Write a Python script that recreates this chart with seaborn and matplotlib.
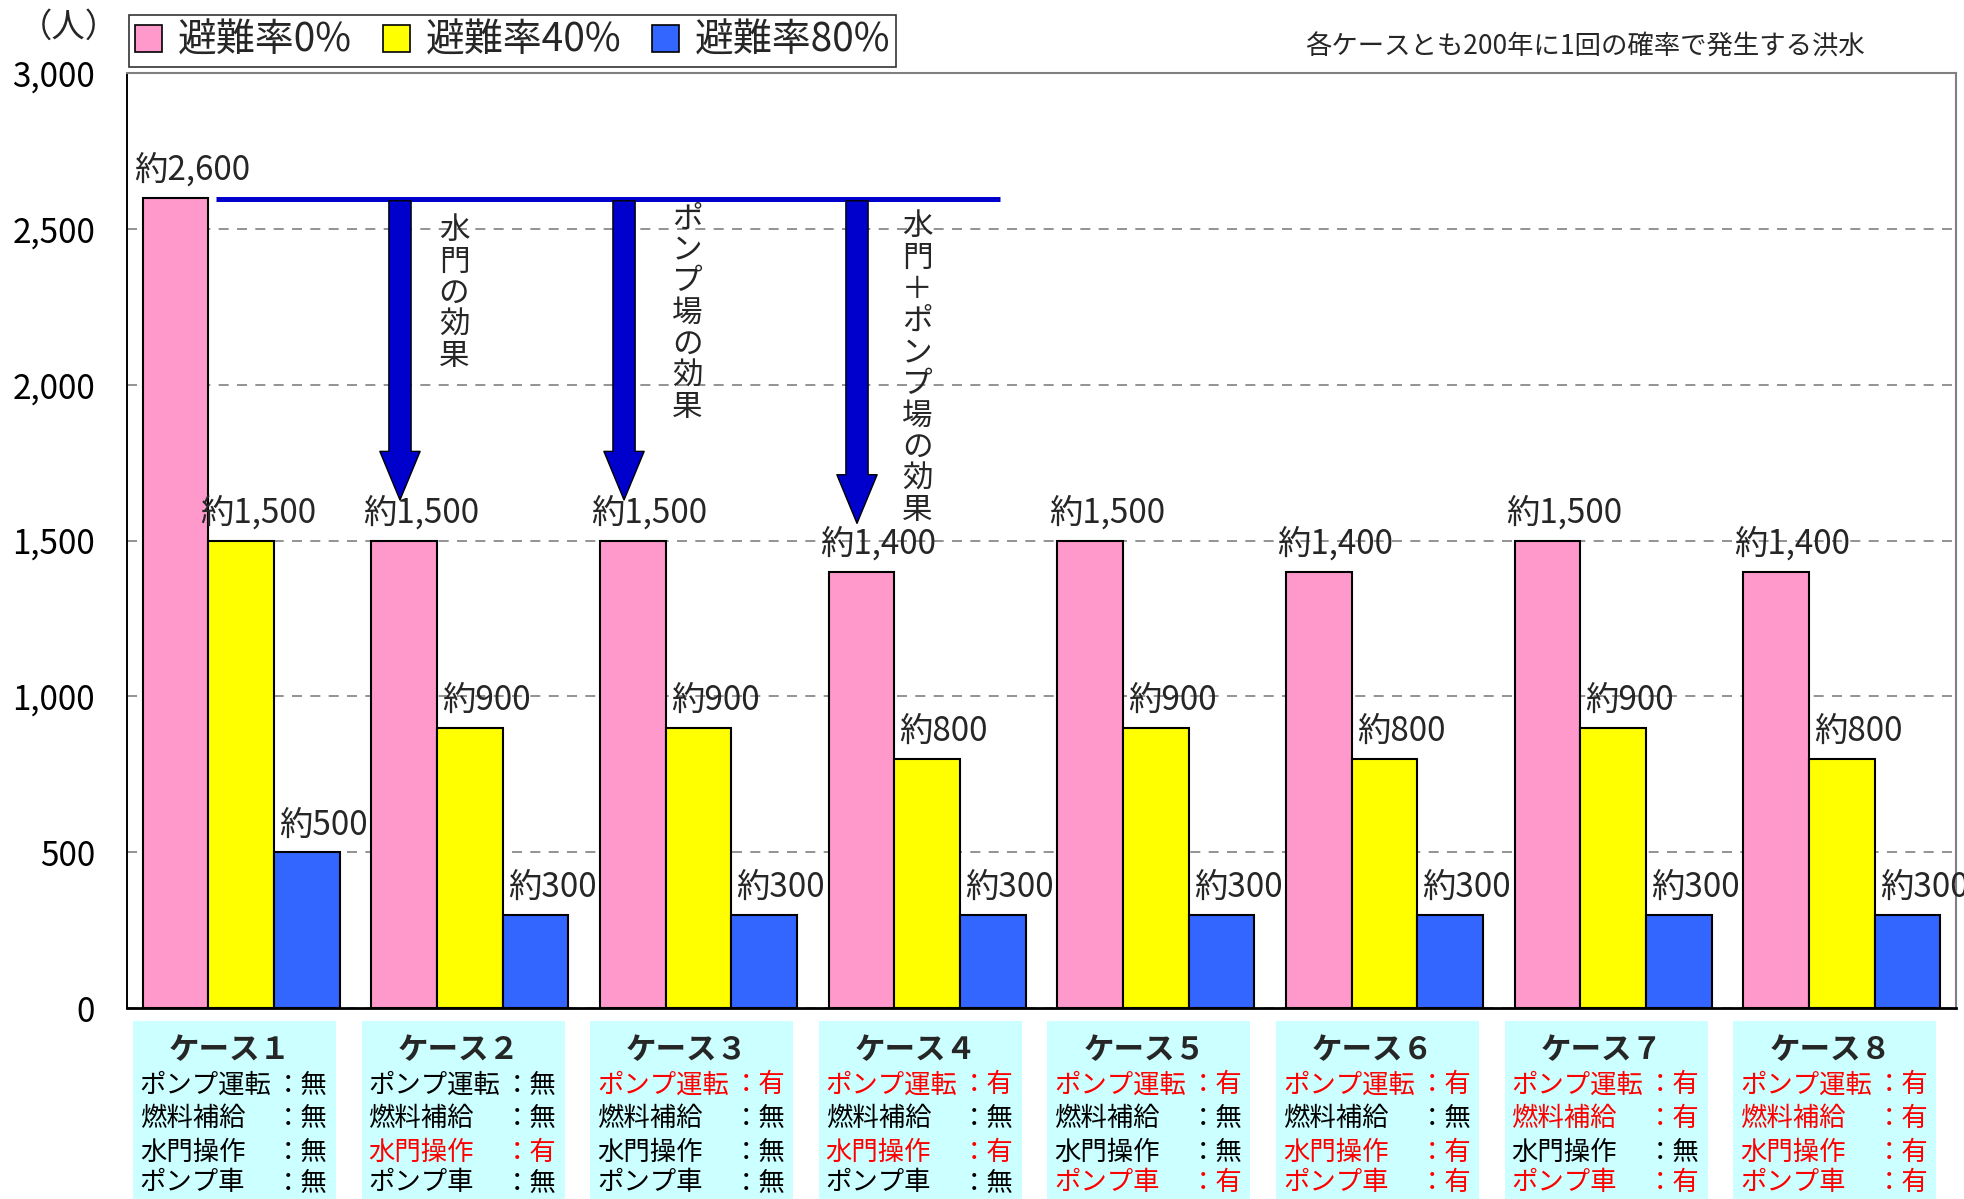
import pandas as pd
import matplotlib
matplotlib.use("Agg")
import matplotlib.pyplot as plt
import matplotlib.transforms as mtransforms
from matplotlib.patches import Patch, Rectangle
import seaborn as sns

# data
cases = ["ケース１", "ケース２", "ケース３", "ケース４", "ケース５", "ケース６", "ケース７", "ケース８"]
series = ["避難率0%", "避難率40%", "避難率80%"]
rate_0 = [2600, 1500, 1500, 1400, 1500, 1400, 1500, 1400]
rate_40 = [1500, 900, 900, 800, 900, 800, 900, 800]
rate_80 = [500, 300, 300, 300, 300, 300, 300, 300]
colors = ["#FF99CC", "#FFFF00", "#3366FF"]

items = ["ポンプ運転", "燃料補給", "水門操作", "ポンプ車"]
pump_run = ["無", "無", "有", "有", "有", "有", "有", "有"]
fuel = ["無", "無", "無", "無", "無", "無", "有", "有"]
gate = ["無", "有", "無", "有", "無", "有", "無", "有"]
pump_car = ["無", "無", "無", "無", "有", "有", "有", "有"]

effects = ["水門の効果", "ポンプ場の効果", "水門＋ポンプ場の効果"]
note = "各ケースとも200年に1回の確率で発生する洪水"

sns.set_style("white")
plt.rcParams["font.family"] = ["Noto Sans CJK JP", "DejaVu Sans"]

df = pd.DataFrame({
    "case": cases * 3,
    "series": [s for s in series for _ in cases],
    "people": rate_0 + rate_40 + rate_80,
})

fig = plt.figure(figsize=(19.65, 11.99), dpi=100)
ax = fig.add_axes([127 / 1965, 1 - 1008 / 1199, (1956 - 127) / 1965, (1008 - 73) / 1199])

sns.barplot(data=df, x="case", y="people", hue="series", order=cases, hue_order=series,
            palette=colors, saturation=1, width=0.862, edgecolor="black", linewidth=1.5,
            errorbar=None, legend=False, ax=ax)

ax.set_xlim(-0.5, 7.5)
ax.set_ylim(0, 3000)
ax.set_xlabel("")
ax.set_ylabel("")
ax.set_yticks(range(0, 3001, 500))
ax.set_yticklabels([f"{v:,}" for v in range(0, 3001, 500)], fontsize=24)
ax.tick_params(axis="y", direction="in", length=9, width=1.2, pad=23, colors="black")
ax.set_xticks([])
ax.set_xticks([i + 0.5 for i in range(-1, 8)], minor=True)
ax.tick_params(axis="x", which="minor", direction="in", length=9, width=1.2, labelbottom=False)
ax.set_axisbelow(True)
ax.grid(axis="y", color="#808080", linestyle=(0, (6, 5)), linewidth=1.2)
ax.spines["left"].set_color("black")
ax.spines["left"].set_linewidth(1.4)
ax.spines["bottom"].set_color("black")
ax.spines["bottom"].set_linewidth(2)
ax.spines["top"].set_color("#808080")
ax.spines["right"].set_color("#808080")
ax.spines["top"].set_linewidth(1.5)
ax.spines["right"].set_linewidth(1.5)

# bar labels
for cont in ax.containers:
    for rect in cont:
        h = rect.get_height()
        ax.annotate(f"約{h:,.0f}", (rect.get_x() + rect.get_width() / 2, h),
                    xytext=(12, 7), textcoords="offset points",
                    ha="center", va="bottom", fontsize=24)

# effect arrows
ax.plot([-0.11, 3.32], [2595, 2595], color="#0000CC", lw=3.6, solid_capstyle="butt", zorder=4)
arrow_x = [0.694, 1.674, 2.693]
arrow_tip = [1630, 1630, 1555]
text_x = [0.93, 1.95, 2.956]
text_top = [2494, 2532, 2506]
for ax_x, tip, tx, ty, label in zip(arrow_x, arrow_tip, text_x, text_top, effects):
    ax.annotate("", xy=(ax_x, tip), xytext=(ax_x, 2590),
                arrowprops=dict(arrowstyle="simple,head_width=1.45,head_length=1.75,tail_width=0.8",
                                fc="#0000CC", ec="black", lw=1, mutation_scale=20,
                                shrinkA=0, shrinkB=0), zorder=5)
    for k, ch in enumerate(label):
        ax.text(tx, ty - k * 101, ch, ha="center", va="center", fontsize=22, zorder=6)

# legend and notes
handles = [Patch(facecolor=c, edgecolor="black", linewidth=1.2, label=s) for c, s in zip(colors, series)]
leg = fig.legend(handles=handles, loc="upper left", bbox_to_anchor=(129 / 1965, 1 - 15 / 1199),
                 ncol=3, fontsize=28, frameon=True, fancybox=False, edgecolor="black",
                 handlelength=0.7, handleheight=0.7, handletextpad=0.4,
                 columnspacing=0.8, borderpad=0.15, borderaxespad=0)
leg.get_frame().set_linewidth(1.2)
fig.text(69 / 1965, 1 - 27 / 1199, "（人）", ha="center", va="center", fontsize=24)
fig.text(1585 / 1965, 1 - 47 / 1199, note, ha="center", va="center", fontsize=19)

# case boxes
trans = mtransforms.blended_transform_factory(ax.transData, fig.transFigure)
flags = [pump_run, fuel, gate, pump_car]
row_y = [1085, 1118, 1152, 1183]
half = 0.444
shift = -0.03
for i, case in enumerate(cases):
    cx = i + shift
    ax.add_patch(Rectangle((cx - half, 0), 2 * half, 1 - 1021 / 1199, transform=trans,
                           facecolor="#CCFFFF", edgecolor="none", clip_on=False))
    ax.text(cx - 0.02, 1 - 1050 / 1199, case, transform=trans, ha="center", va="center",
            fontsize=22, fontweight="bold")
    for item, flag, yy in zip(items, flags, row_y):
        col = "#FF0000" if flag[i] == "有" else "black"
        ax.text(cx - half + 0.03, 1 - yy / 1199, item, transform=trans, ha="left",
                va="center", fontsize=19, color=col)
        ax.text(cx + half - 0.035, 1 - yy / 1199, "：" + flag[i], transform=trans, ha="right",
                va="center", fontsize=19, color=col)

fig.savefig("out.png", dpi=100)
